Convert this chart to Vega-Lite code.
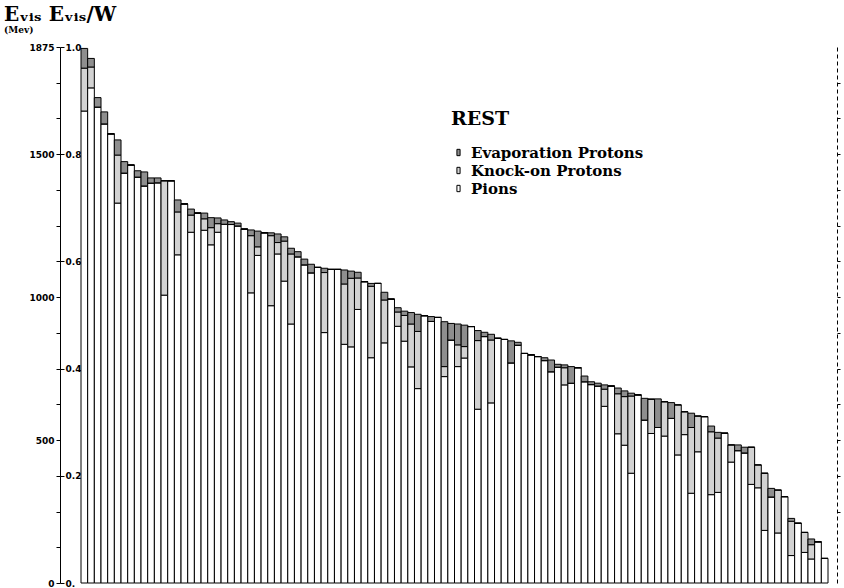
{
  "$schema": "https://vega.github.io/schema/vega-lite/v6.json",
  "width": 747,
  "height": 536,
  "autosize": {"type": "none"},
  "padding": {"left": 81, "top": 47, "right": 16, "bottom": 5},
  "background": "white",
  "title": {
    "text": "Eᵥᵢₛ  Eᵥᵢₛ/W",
    "subtitle": "(Mev)",
    "anchor": "start",
    "frame": "group",
    "dx": -77,
    "offset": 8,
    "font": "DejaVu Serif",
    "fontSize": 20,
    "fontWeight": "bold",
    "color": "black",
    "subtitleFont": "DejaVu Serif",
    "subtitleFontSize": 9,
    "subtitleFontWeight": "bold",
    "subtitleColor": "black",
    "subtitlePadding": 1
  },
  "config": {
    "view": {"stroke": null},
    "axis": {"grid": false, "domainColor": "black", "tickColor": "black", "labelColor": "black", "labelFont": "DejaVu Sans", "labelFontSize": 9, "labelFontWeight": "bold", "labelOverlap": false, "labelFlush": false, "title": null}
  },
  "layer": [
    {
      "data": {"values": [
        {"bar": 0, "Pions": 1651, "Knock-on Protons": 150, "Evaporation Protons": 69},
        {"bar": 1, "Pions": 1732, "Knock-on Protons": 73, "Evaporation Protons": 30},
        {"bar": 2, "Pions": 1665, "Knock-on Protons": 0, "Evaporation Protons": 33},
        {"bar": 3, "Pions": 1606, "Knock-on Protons": 0, "Evaporation Protons": 42},
        {"bar": 4, "Pions": 1571, "Knock-on Protons": 0, "Evaporation Protons": 0},
        {"bar": 5, "Pions": 1329, "Knock-on Protons": 168, "Evaporation Protons": 53},
        {"bar": 6, "Pions": 1434, "Knock-on Protons": 0, "Evaporation Protons": 40},
        {"bar": 7, "Pions": 1462, "Knock-on Protons": 0, "Evaporation Protons": 0},
        {"bar": 8, "Pions": 1420, "Knock-on Protons": 0, "Evaporation Protons": 22},
        {"bar": 9, "Pions": 1389, "Knock-on Protons": 0, "Evaporation Protons": 49},
        {"bar": 10, "Pions": 1399, "Knock-on Protons": 0, "Evaporation Protons": 18},
        {"bar": 11, "Pions": 1400, "Knock-on Protons": 0, "Evaporation Protons": 17},
        {"bar": 12, "Pions": 1007, "Knock-on Protons": 400, "Evaporation Protons": 0},
        {"bar": 13, "Pions": 1407, "Knock-on Protons": 0, "Evaporation Protons": 0},
        {"bar": 14, "Pions": 1148, "Knock-on Protons": 150, "Evaporation Protons": 42},
        {"bar": 15, "Pions": 1326, "Knock-on Protons": 0, "Evaporation Protons": 0},
        {"bar": 16, "Pions": 1227, "Knock-on Protons": 60, "Evaporation Protons": 21},
        {"bar": 17, "Pions": 1294, "Knock-on Protons": 0, "Evaporation Protons": 0},
        {"bar": 18, "Pions": 1234, "Knock-on Protons": 40, "Evaporation Protons": 20},
        {"bar": 19, "Pions": 1183, "Knock-on Protons": 60, "Evaporation Protons": 35},
        {"bar": 20, "Pions": 1227, "Knock-on Protons": 30, "Evaporation Protons": 20},
        {"bar": 21, "Pions": 1255, "Knock-on Protons": 0, "Evaporation Protons": 15},
        {"bar": 22, "Pions": 1254, "Knock-on Protons": 0, "Evaporation Protons": 10},
        {"bar": 23, "Pions": 1249, "Knock-on Protons": 0, "Evaporation Protons": 10},
        {"bar": 24, "Pions": 1238, "Knock-on Protons": 0, "Evaporation Protons": 0},
        {"bar": 25, "Pions": 1015, "Knock-on Protons": 200, "Evaporation Protons": 20},
        {"bar": 26, "Pions": 1146, "Knock-on Protons": 30, "Evaporation Protons": 55},
        {"bar": 27, "Pions": 1225, "Knock-on Protons": 0, "Evaporation Protons": 0},
        {"bar": 28, "Pions": 970, "Knock-on Protons": 245, "Evaporation Protons": 10},
        {"bar": 29, "Pions": 1151, "Knock-on Protons": 40, "Evaporation Protons": 30},
        {"bar": 30, "Pions": 1056, "Knock-on Protons": 140, "Evaporation Protons": 15},
        {"bar": 31, "Pions": 906, "Knock-on Protons": 245, "Evaporation Protons": 20},
        {"bar": 32, "Pions": 1141, "Knock-on Protons": 0, "Evaporation Protons": 18},
        {"bar": 33, "Pions": 1113, "Knock-on Protons": 0, "Evaporation Protons": 20},
        {"bar": 34, "Pions": 1085, "Knock-on Protons": 0, "Evaporation Protons": 30},
        {"bar": 35, "Pions": 1104, "Knock-on Protons": 0, "Evaporation Protons": 0},
        {"bar": 36, "Pions": 876, "Knock-on Protons": 210, "Evaporation Protons": 15},
        {"bar": 37, "Pions": 1097, "Knock-on Protons": 0, "Evaporation Protons": 0},
        {"bar": 38, "Pions": 1097, "Knock-on Protons": 0, "Evaporation Protons": 0},
        {"bar": 39, "Pions": 835, "Knock-on Protons": 211, "Evaporation Protons": 49},
        {"bar": 40, "Pions": 826, "Knock-on Protons": 240, "Evaporation Protons": 25},
        {"bar": 41, "Pions": 957, "Knock-on Protons": 110, "Evaporation Protons": 20},
        {"bar": 42, "Pions": 1054, "Knock-on Protons": 0, "Evaporation Protons": 0},
        {"bar": 43, "Pions": 788, "Knock-on Protons": 250, "Evaporation Protons": 10},
        {"bar": 44, "Pions": 1048, "Knock-on Protons": 0, "Evaporation Protons": 0},
        {"bar": 45, "Pions": 840, "Knock-on Protons": 150, "Evaporation Protons": 27},
        {"bar": 46, "Pions": 993, "Knock-on Protons": 0, "Evaporation Protons": 0},
        {"bar": 47, "Pions": 898, "Knock-on Protons": 50, "Evaporation Protons": 15},
        {"bar": 48, "Pions": 846, "Knock-on Protons": 90, "Evaporation Protons": 15},
        {"bar": 49, "Pions": 756, "Knock-on Protons": 150, "Evaporation Protons": 40},
        {"bar": 50, "Pions": 680, "Knock-on Protons": 200, "Evaporation Protons": 60},
        {"bar": 51, "Pions": 935, "Knock-on Protons": 0, "Evaporation Protons": 0},
        {"bar": 52, "Pions": 915, "Knock-on Protons": 0, "Evaporation Protons": 17},
        {"bar": 53, "Pions": 929, "Knock-on Protons": 0, "Evaporation Protons": 0},
        {"bar": 54, "Pions": 722, "Knock-on Protons": 35, "Evaporation Protons": 157},
        {"bar": 55, "Pions": 850, "Knock-on Protons": 0, "Evaporation Protons": 58},
        {"bar": 56, "Pions": 757, "Knock-on Protons": 76, "Evaporation Protons": 73},
        {"bar": 57, "Pions": 787, "Knock-on Protons": 40, "Evaporation Protons": 75},
        {"bar": 58, "Pions": 897, "Knock-on Protons": 0, "Evaporation Protons": 0},
        {"bar": 59, "Pions": 608, "Knock-on Protons": 240, "Evaporation Protons": 35},
        {"bar": 60, "Pions": 862, "Knock-on Protons": 0, "Evaporation Protons": 15},
        {"bar": 61, "Pions": 630, "Knock-on Protons": 220, "Evaporation Protons": 20},
        {"bar": 62, "Pions": 856, "Knock-on Protons": 0, "Evaporation Protons": 0},
        {"bar": 63, "Pions": 852, "Knock-on Protons": 0, "Evaporation Protons": 0},
        {"bar": 64, "Pions": 770, "Knock-on Protons": 0, "Evaporation Protons": 77},
        {"bar": 65, "Pions": 832, "Knock-on Protons": 0, "Evaporation Protons": 10},
        {"bar": 66, "Pions": 803, "Knock-on Protons": 0, "Evaporation Protons": 0},
        {"bar": 67, "Pions": 798, "Knock-on Protons": 0, "Evaporation Protons": 0},
        {"bar": 68, "Pions": 792, "Knock-on Protons": 0, "Evaporation Protons": 0},
        {"bar": 69, "Pions": 778, "Knock-on Protons": 0, "Evaporation Protons": 10},
        {"bar": 70, "Pions": 739, "Knock-on Protons": 0, "Evaporation Protons": 41},
        {"bar": 71, "Pions": 755, "Knock-on Protons": 0, "Evaporation Protons": 10},
        {"bar": 72, "Pions": 693, "Knock-on Protons": 60, "Evaporation Protons": 10},
        {"bar": 73, "Pions": 699, "Knock-on Protons": 0, "Evaporation Protons": 58},
        {"bar": 74, "Pions": 753, "Knock-on Protons": 0, "Evaporation Protons": 0},
        {"bar": 75, "Pions": 704, "Knock-on Protons": 0, "Evaporation Protons": 20},
        {"bar": 76, "Pions": 694, "Knock-on Protons": 0, "Evaporation Protons": 10},
        {"bar": 77, "Pions": 689, "Knock-on Protons": 0, "Evaporation Protons": 10},
        {"bar": 78, "Pions": 618, "Knock-on Protons": 60, "Evaporation Protons": 15},
        {"bar": 79, "Pions": 689, "Knock-on Protons": 0, "Evaporation Protons": 0},
        {"bar": 80, "Pions": 522, "Knock-on Protons": 140, "Evaporation Protons": 20},
        {"bar": 81, "Pions": 482, "Knock-on Protons": 170, "Evaporation Protons": 20},
        {"bar": 82, "Pions": 384, "Knock-on Protons": 270, "Evaporation Protons": 10},
        {"bar": 83, "Pions": 658, "Knock-on Protons": 0, "Evaporation Protons": 0},
        {"bar": 84, "Pions": 570, "Knock-on Protons": 0, "Evaporation Protons": 76},
        {"bar": 85, "Pions": 523, "Knock-on Protons": 120, "Evaporation Protons": 0},
        {"bar": 86, "Pions": 544, "Knock-on Protons": 0, "Evaporation Protons": 100},
        {"bar": 87, "Pions": 514, "Knock-on Protons": 120, "Evaporation Protons": 0},
        {"bar": 88, "Pions": 576, "Knock-on Protons": 0, "Evaporation Protons": 55},
        {"bar": 89, "Pions": 448, "Knock-on Protons": 175, "Evaporation Protons": 0},
        {"bar": 90, "Pions": 519, "Knock-on Protons": 80, "Evaporation Protons": 0},
        {"bar": 91, "Pions": 314, "Knock-on Protons": 230, "Evaporation Protons": 50},
        {"bar": 92, "Pions": 459, "Knock-on Protons": 125, "Evaporation Protons": 0},
        {"bar": 93, "Pions": 582, "Knock-on Protons": 0, "Evaporation Protons": 0},
        {"bar": 94, "Pions": 309, "Knock-on Protons": 220, "Evaporation Protons": 20},
        {"bar": 95, "Pions": 317, "Knock-on Protons": 190, "Evaporation Protons": 20},
        {"bar": 96, "Pions": 524, "Knock-on Protons": 0, "Evaporation Protons": 0},
        {"bar": 97, "Pions": 423, "Knock-on Protons": 60, "Evaporation Protons": 0},
        {"bar": 98, "Pions": 463, "Knock-on Protons": 0, "Evaporation Protons": 20},
        {"bar": 99, "Pions": 455, "Knock-on Protons": 0, "Evaporation Protons": 20},
        {"bar": 100, "Pions": 345, "Knock-on Protons": 130, "Evaporation Protons": 0},
        {"bar": 101, "Pions": 333, "Knock-on Protons": 80, "Evaporation Protons": 0},
        {"bar": 102, "Pions": 184, "Knock-on Protons": 200, "Evaporation Protons": 0},
        {"bar": 103, "Pions": 301, "Knock-on Protons": 0, "Evaporation Protons": 30},
        {"bar": 104, "Pions": 175, "Knock-on Protons": 150, "Evaporation Protons": 0},
        {"bar": 105, "Pions": 302, "Knock-on Protons": 0, "Evaporation Protons": 0},
        {"bar": 106, "Pions": 96, "Knock-on Protons": 120, "Evaporation Protons": 10},
        {"bar": 107, "Pions": 209, "Knock-on Protons": 0, "Evaporation Protons": 0},
        {"bar": 108, "Pions": 107, "Knock-on Protons": 70, "Evaporation Protons": 0},
        {"bar": 109, "Pions": 84, "Knock-on Protons": 50, "Evaporation Protons": 20},
        {"bar": 110, "Pions": 144, "Knock-on Protons": 0, "Evaporation Protons": 0},
        {"bar": 111, "Pions": 86, "Knock-on Protons": 0, "Evaporation Protons": 0}
      ]},
      "transform": [{"fold": ["Pions", "Knock-on Protons", "Evaporation Protons"], "as": ["part", "value"]}],
      "mark": {"type": "bar", "stroke": "black", "strokeWidth": 1},
      "encoding": {
        "x": {"field": "bar", "type": "ordinal", "axis": null, "scale": {"paddingInner": 0, "paddingOuter": 0}},
        "y": {
          "field": "value", "type": "quantitative", "stack": "zero",
          "scale": {"domain": [0, 1875], "nice": false, "zero": true},
          "axis": {
            "orient": "left", "offset": 21,
            "values": [0, 125, 250, 375, 500, 625, 750, 875, 1000, 1125, 1250, 1375, 1500, 1625, 1750, 1875],
            "labelExpr": "(datum.value % 500 == 0 || datum.value == 1875) ? format(datum.value, 'd') : ''",
            "tickSize": 4, "labelPadding": 2
          }
        },
        "color": {
          "field": "part", "type": "nominal",
          "scale": {"domain": ["Evaporation Protons", "Knock-on Protons", "Pions"], "range": ["#8e8e8e", "#d2d2d2", "#ffffff"]},
          "legend": {
            "title": "REST", "orient": "none", "legendX": 370, "legendY": 63,
            "titleFont": "DejaVu Serif", "titleFontSize": 19, "titleFontWeight": "bold", "titleColor": "black", "titlePadding": 16,
            "labelFont": "DejaVu Serif", "labelFontSize": 15, "labelFontWeight": "bold", "labelColor": "black", "labelOffset": 5, "labelLimit": 400,
            "symbolType": "M-0.5,-1L0.5,-1L0.5,1L-0.5,1Z", "symbolSize": 40, "symbolStrokeColor": "black", "symbolStrokeWidth": 1, "symbolOpacity": 1,
            "rowPadding": 2
          }
        },
        "order": {"field": "part", "sort": "descending"}
      }
    },
    {
      "data": {"values": [{"v": 0}, {"v": 1875}]},
      "mark": {"type": "tick", "opacity": 0},
      "encoding": {
        "y": {
          "field": "v", "type": "quantitative",
          "scale": {"domain": [0, 1875], "nice": false, "zero": true},
          "axis": {
            "orient": "left", "offset": 17, "domain": false,
            "values": [0, 375, 750, 1125, 1500, 1875],
            "labelExpr": "datum.value == 0 ? '0.' : format(datum.value / 1875, '.1f')",
            "tickSize": 4, "labelAlign": "left", "labelPadding": -5
          }
        }
      }
    },
    {
      "data": {"values": [{"v": 0}, {"v": 1875}]},
      "mark": {"type": "tick", "opacity": 0},
      "encoding": {
        "y": {
          "field": "v", "type": "quantitative",
          "scale": {"domain": [0, 1875], "nice": false, "zero": true},
          "axis": {
            "orient": "right", "offset": 9, "domainDash": [4, 3],
            "values": [250, 375, 500, 625, 750, 875, 1000, 1125, 1250, 1375, 1500, 1625, 1750],
            "labels": false, "tickSize": 3
          }
        }
      }
    }
  ],
  "resolve": {"axis": {"y": "independent"}}
}
